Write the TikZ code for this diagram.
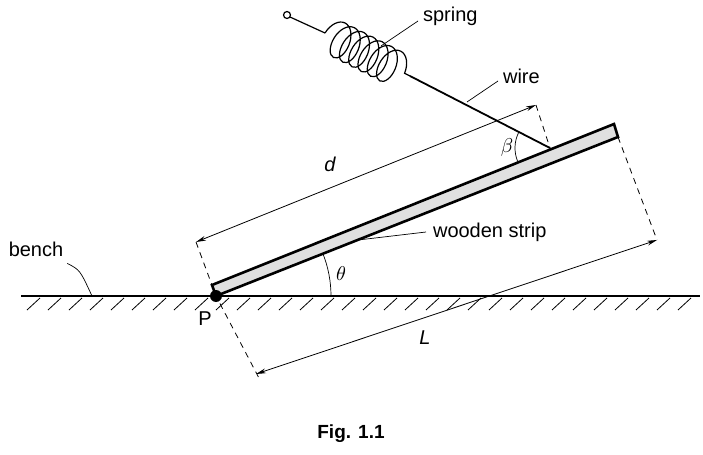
\documentclass[tikz,border=0pt]{standalone}
\usepackage{fontspec}
\setmainfont{Liberation Sans}
\usetikzlibrary{arrows.meta,decorations.pathmorphing}
\tikzset{
  dim/.style={thin,{Stealth[length=5pt,width=2.4pt]}-{Stealth[length=5pt,width=2.4pt]}},
  lead/.style={line width=0.35pt},
  lab/.style={font=\fontsize{10}{11}\selectfont},
  guide/.style={line width=0.4pt,dash pattern=on 3pt off 2.5pt}
}
\begin{document}
\begin{tikzpicture}[x=0.5pt,y=-0.5pt]
    \useasboundingbox (0,0) rectangle (703,455);
    % points
    \coordinate (P) at (216,296);
    \coordinate (TL) at (212,285);
    \coordinate (TR) at (614,124);
    \coordinate (BR) at (618,137);
    \coordinate (W) at (550,148);
    \coordinate (S1) at (410,76);
    \coordinate (S0) at (325,33);
    \coordinate (Dl) at (196,242);
    \coordinate (Dr) at (536,105);
    \coordinate (Ll) at (256,374);
    \coordinate (Lr) at (657,240);
    \coordinate (Pd) at (260,380);

    % bench
    \draw[line width=0.7pt] (21,296) -- (700,296);
    \foreach \x in {40,61,...,700}
      \draw[line width=0.4pt] (\x,298) -- (\x-13,310);

    % strip
    \draw[line width=1.3pt,fill=black!12] (P) -- (TL) -- (TR) -- (BR) -- cycle;
    \fill (P) circle (6);

    % spring and wire
    \draw[line width=0.6pt] (287,15) circle (3.5);
    \draw[line width=0.6pt] (290,17) -- (S0);
    \draw[line width=0.6pt,decorate,decoration={coil,amplitude=9pt,segment length=5.2pt,aspect=0.6}] (S0) -- (S1);
    \draw[line width=0.9pt] (S1) -- (W);

    % dimension guides
    \draw[guide] (Dl) -- (P) -- (Pd);
    \draw[guide] (Dr) -- (W);
    \draw[guide] (BR) -- (Lr);
    \draw[dim] (Dl) -- (Dr);
    \draw[dim] (Ll) -- (Lr);

    % angles
    \draw[lead] (P) ++(115,0) arc[start angle=0,end angle=-21.8,radius=115];
    \draw[lead] (W) ++(158:35) arc[start angle=158,end angle=207,radius=35];

    % labels
    \node[lab] (theta) at (341,274) {$\theta$};
    \node[lab] (beta) at (507,147) {$\beta$};
    \node[lab] (dl) at (330,164) {\itshape d};
    \node[lab] (ll) at (425,338) {\itshape L};
    \node[lab] (pl) at (205,319) {P};
    \node[lab,anchor=west] (spr) at (416,16) {spring};
    \node[lab,anchor=west] (wir) at (496,76) {wire};
    \node[lab,anchor=west] (wood) at (426,232) {wooden strip};
    \node[lab] (ben) at (36,249) {bench};
    \node[font=\bfseries\fontsize{9.5}{11}\selectfont] (fig) at (351,434) {Fig. 1.1};

    % leaders
    \draw[lead] (spr.west) ++(2,5) -- (381,46);
    \draw[lead] (wir.west) ++(2,5) -- (467,102);
    \draw[lead] (wood.west) -- (358,240);
    \draw[lead] (ben.south east) ++(-3,0) .. controls (80,270) .. (92,296);
\end{tikzpicture}
\end{document}
